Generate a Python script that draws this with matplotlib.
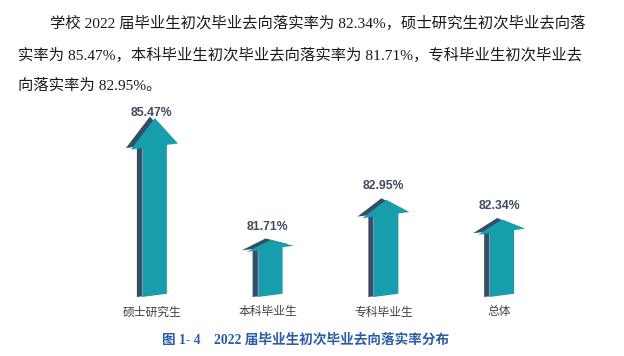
import matplotlib
matplotlib.use('Agg')
import matplotlib.pyplot as plt
from matplotlib.patches import Polygon

# data
categories = ['硕士研究生', '本科毕业生', '专科毕业生', '总体']
rates = [85.47, 81.71, 82.95, 82.34]
rate_labels = ['85.47%', '81.71%', '82.95%', '82.34%']
para_lines = [
    '学校 2022 届毕业生初次毕业去向落实率为 82.34%，硕士研究生初次毕业去向落',
    '实率为 85.47%，本科毕业生初次毕业去向落实率为 81.71%，专科毕业生初次毕业去',
    '向落实率为 82.95%。',
]
caption = '图 1- 4    2022 届毕业生初次毕业去向落实率分布'

W, H = 624, 356
TEAL = '#169eac'
DARK = '#344e68'
serif_cjk = ['Liberation Serif', 'Noto Sans CJK SC']

fig = plt.figure(figsize=(W / 100, H / 100), dpi=100)
fig.patch.set_facecolor('white')

# paragraph above the chart
para_x = [50, 18, 18]
para_y = [23, 55, 86]
for s, px, py in zip(para_lines, para_x, para_y):
    fig.text(px / W, 1 - py / H, s, family=serif_cjk, fontsize=11.05,
             color='#1a1a1a', ha='left', va='center')

# chart area, pixel geometry
ymin, ymax = 80, 86
ax_l, ax_r, ax_b, ax_t = 94, 557, 297, 102.6
ax = fig.add_axes([ax_l / W, (H - ax_b) / H, (ax_r - ax_l) / W, (ax_b - ax_t) / H])
ax.set_xlim(-0.5, len(categories) - 0.5)
ax.set_ylim(ymin, ymax)
ax.axis('off')

px_x = (ax_r - ax_l) / len(categories)      # px per category
px_y = (ax_b - ax_t) / (ymax - ymin)         # px per percent


def arrow_pts(cx, v, sx=0.0, sy=0.0):
    top = (v - ymin) * px_y
    hh = 0.16 * top
    xl, xr, hl, hr, xt = -10, 15, -21, 26, 3
    k = 0.13
    pts = [(xl, 0), (xr, 0), (xr, top - hh), (hr, top - hh), (xt, top),
           (hl, top - hh), (xl, top - hh)]
    out = []
    for i, (x, y) in enumerate(pts):
        y = y + k * (x - xl)
        x, y = x + sx, y + sy
        if i < 2 and sy:
            y = 0 if i == 0 else y - sy
        out.append((cx + x / px_x, ymin + y / px_y))
    return out, top - hh


for i, v in enumerate(rates):
    dark, _ = arrow_pts(i, v, sx=-5, sy=1.5)
    ax.add_patch(Polygon(dark, closed=True, fc=DARK, ec='none'))
    face, neck = arrow_pts(i, v)
    ax.add_patch(Polygon(face, closed=True, fc=TEAL, ec='none'))
    ax.plot([i - 10 / px_x, i - 10 / px_x], [ymin, ymin + neck / px_y],
            color='#7d97ad', lw=0.8, solid_capstyle='butt')
    ly = min(v + 15 / px_y, ymin + 184 / px_y)
    ax.text(i, ly, rate_labels[i], ha='center', va='center', fontsize=8.8,
            fontweight='bold', family='Liberation Sans', color='#3f4a5c')
    ax.text(i, ymin - 15 / px_y, categories[i], ha='center', va='center',
            fontsize=8.5, family='Noto Sans CJK SC', color='#404040', clip_on=False)

# caption
fig.text(306 / W, 1 - 340 / H, caption, family=serif_cjk, fontsize=9.8,
         fontweight='bold', color='#2b5caa', ha='center', va='center')

fig.savefig('out.png', dpi=100)
